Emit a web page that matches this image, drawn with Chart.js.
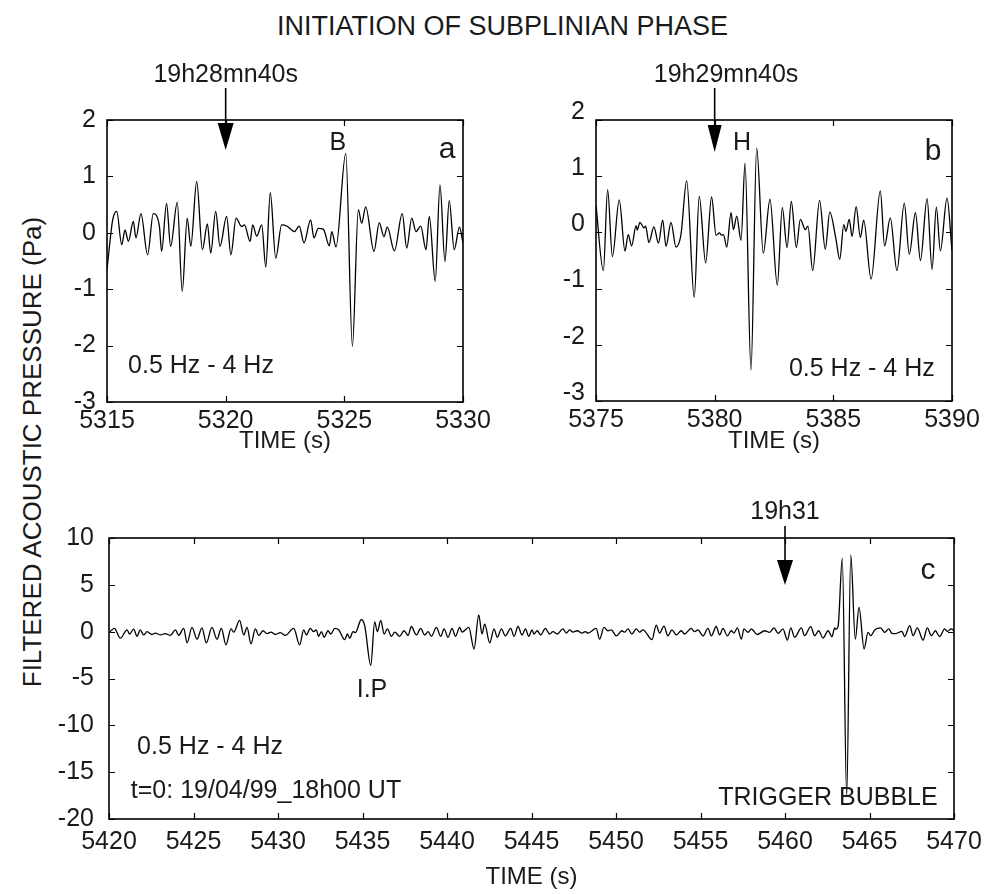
<!DOCTYPE html>
<html>
<head>
<meta charset="UTF-8" />
<title>Initiation of subplinian phase</title>
<script src="https://cdn.jsdelivr.net/npm/chart.js"></script>
<style>
  body { margin: 0; background: #fff; }
  #page { position: relative; width: 1005px; height: 894px; overflow: hidden;
          font-family: 'Liberation Sans', Arial, sans-serif; color: #1a1a1a; }
  #page canvas { position: absolute; }
  .title { position: absolute; left: 0; top: 11px; width: 1005px; text-align: center; font-size: 27px; }
  .ylabel { position: absolute; left: 32px; top: 452px; white-space: nowrap; font-size: 26px;
            transform: translate(-50%, -50%) rotate(-90deg); }
</style>
</head>
<body>
<div id="page">
  <div class="title">INITIATION OF SUBPLINIAN PHASE</div>
  <div class="ylabel">FILTERED ACOUSTIC PRESSURE (Pa)</div>
  <canvas id="chartA" width="460" height="410" style="left:40px;top:50px"></canvas>
  <canvas id="chartB" width="485" height="410" style="left:520px;top:50px"></canvas>
  <canvas id="chartC" width="985" height="414" style="left:20px;top:480px"></canvas>
</div>

<script>
// filtered pressure traces, [time (s), pressure (Pa)]
const traceA = [
  [5315.00,-0.65],[5315.24,0.23],[5315.41,0.38],[5315.62,-0.21],[5315.76,0.05],[5315.90,-0.15],
  [5316.11,0.20],[5316.22,-0.09],[5316.43,0.34],[5316.71,-0.39],[5316.95,0.34],[5317.21,0.11],
  [5317.30,-0.33],[5317.51,0.52],[5317.68,-0.24],[5317.96,0.54],[5318.17,-1.04],[5318.38,0.26],
  [5318.53,-0.24],[5318.78,0.91],[5319.02,-0.30],[5319.23,0.16],[5319.37,-0.36],[5319.58,0.38],
  [5319.76,-0.24],[5320.04,0.29],[5320.22,-0.39],[5320.44,0.26],[5320.67,0.11],[5320.79,0.14],
  [5321.03,-0.15],[5321.14,0.14],[5321.31,-0.06],[5321.52,0.14],[5321.69,-0.61],[5321.88,0.71],
  [5322.11,-0.45],[5322.36,0.14],[5322.57,0.12],[5322.78,0.05],[5322.89,0.02],[5323.10,0.12],
  [5323.30,-0.18],[5323.58,0.23],[5323.72,-0.09],[5323.90,0.08],[5324.12,0.06],[5324.37,-0.23],
  [5324.47,0.02],[5324.65,-0.25],[5325.06,1.41],[5325.34,-2.01],[5325.59,0.41],[5325.73,0.17],
  [5325.90,0.46],[5326.25,-0.33],[5326.47,0.18],[5326.67,-0.07],[5326.81,0.10],[5327.11,-0.32],
  [5327.44,0.34],[5327.63,-0.27],[5327.84,0.26],[5328.02,0.02],[5328.22,0.12],[5328.44,-0.30],
  [5328.58,0.29],[5328.83,-0.86],[5329.03,0.85],[5329.24,-0.51],[5329.42,0.57],[5329.63,-0.30],
  [5329.85,0.10],[5330.00,-0.18]
];

const traceB = [
  [5375.00,0.48],[5375.31,-0.68],[5375.49,0.76],[5375.69,-0.43],[5375.98,0.58],[5376.22,-0.33],
  [5376.36,-0.04],[5376.50,-0.24],[5376.69,0.12],[5376.74,0.04],[5376.85,0.18],[5377.02,0.08],
  [5377.09,0.11],[5377.23,-0.18],[5377.44,0.10],[5377.63,-0.19],[5377.81,0.22],[5377.95,-0.25],
  [5378.16,0.18],[5378.37,-0.26],[5378.58,-0.04],[5378.82,0.92],[5379.14,-1.16],[5379.35,0.64],
  [5379.62,-0.54],[5379.87,0.63],[5380.06,-0.05],[5380.20,-0.01],[5380.29,-0.05],[5380.37,-0.04],
  [5380.51,-0.26],[5380.69,0.35],[5380.79,0.05],[5380.93,0.29],[5381.11,-0.14],[5381.28,1.23],
  [5381.53,-2.45],[5381.77,1.50],[5382.05,-0.37],[5382.33,0.59],[5382.64,-0.94],[5382.85,0.44],
  [5383.05,-0.27],[5383.23,0.55],[5383.44,-0.27],[5383.61,0.23],[5383.82,0.05],[5383.93,0.11],
  [5384.13,-0.68],[5384.42,0.57],[5384.66,-0.30],[5384.85,0.36],[5385.11,-0.12],[5385.27,-0.48],
  [5385.44,0.14],[5385.53,0.02],[5385.67,0.23],[5385.79,-0.07],[5385.96,0.46],[5386.14,-0.09],
  [5386.28,0.22],[5386.59,-0.83],[5386.98,0.74],[5387.16,-0.24],[5387.40,0.26],[5387.68,-0.68],
  [5387.99,0.52],[5388.20,-0.39],[5388.46,0.35],[5388.67,-0.50],[5388.95,0.60],[5389.16,-0.66],
  [5389.34,0.45],[5389.51,-0.33],[5389.79,0.61],[5390.00,-0.33]
];

const traceC = [
  [5420.00,-0.10],[5420.32,0.35],[5420.67,-0.70],[5421.07,0.20],[5421.22,-0.25],[5421.46,0.28],
  [5421.66,-0.50],[5421.85,0.20],[5422.05,-0.35],[5422.25,0.00],[5422.54,-0.30],[5422.74,-0.15],
  [5423.04,-0.35],[5423.33,-0.20],[5423.63,-0.40],[5423.93,0.20],[5424.12,-0.40],[5424.42,0.35],
  [5424.62,-1.20],[5424.91,0.45],[5425.21,-0.80],[5425.50,0.40],[5425.76,-1.20],[5426.09,0.45],
  [5426.39,-0.80],[5426.65,0.35],[5426.92,-1.40],[5427.22,0.30],[5427.38,-0.05],[5427.73,1.20],
  [5427.97,-0.35],[5428.17,0.45],[5428.40,-1.30],[5428.66,0.30],[5428.86,-0.40],[5429.11,0.10],
  [5429.35,-0.20],[5429.59,-0.05],[5429.84,-0.30],[5430.14,-0.10],[5430.43,-0.40],[5430.93,0.35],
  [5431.28,-1.40],[5431.52,0.20],[5431.68,-0.35],[5431.91,0.35],[5432.11,0.00],[5432.27,0.20],
  [5432.40,-0.50],[5432.57,0.00],[5432.73,-0.60],[5432.96,0.10],[5433.12,-0.25],[5433.36,0.35],
  [5433.59,0.20],[5433.95,-0.85],[5434.11,-0.25],[5434.24,-0.70],[5434.44,0.00],[5434.58,-0.10],
  [5434.93,1.30],[5435.13,0.65],[5435.49,-3.60],[5435.72,1.05],[5435.88,0.00],[5436.08,1.20],
  [5436.28,-0.25],[5436.47,0.30],[5436.71,-0.50],[5436.91,-0.05],[5437.20,-0.50],[5437.46,0.10],
  [5437.70,-0.40],[5437.89,0.55],[5438.19,-0.35],[5438.44,0.35],[5438.68,-0.35],[5438.88,0.00],
  [5439.08,-0.50],[5439.37,0.45],[5439.63,-0.50],[5439.83,0.30],[5440.06,-0.60],[5440.30,0.35],
  [5440.50,-0.50],[5440.75,0.45],[5440.89,-0.05],[5441.29,0.45],[5441.60,-1.85],[5441.88,1.80],
  [5442.07,-0.25],[5442.23,0.80],[5442.53,-1.20],[5442.78,0.30],[5442.98,-0.60],[5443.22,0.30],
  [5443.45,-0.45],[5443.77,0.35],[5443.97,-0.50],[5444.20,0.55],[5444.44,-0.35],[5444.64,0.30],
  [5444.84,-0.50],[5445.03,0.20],[5445.14,-0.25],[5445.34,0.10],[5445.54,-0.35],[5445.82,0.35],
  [5446.07,-0.25],[5446.27,0.00],[5446.53,-0.25],[5446.86,0.30],[5447.06,-0.15],[5447.26,0.20],
  [5447.45,-0.05],[5447.71,0.10],[5447.99,-0.15],[5448.18,0.00],[5448.34,-0.15],[5448.83,0.35],
  [5449.03,-0.80],[5449.29,0.45],[5449.52,0.10],[5449.72,0.20],[5450.02,-0.45],[5450.35,0.10],
  [5450.51,-0.05],[5450.71,0.30],[5450.94,-0.25],[5451.20,0.30],[5451.40,-0.05],[5451.59,0.20],
  [5452.13,-0.85],[5452.38,0.70],[5452.58,-0.15],[5452.84,0.60],[5453.07,-0.45],[5453.31,0.20],
  [5453.57,-0.35],[5453.86,0.10],[5454.06,-0.25],[5454.45,0.35],[5454.65,0.00],[5454.85,0.20],
  [5455.15,-0.45],[5455.44,0.35],[5455.64,-0.45],[5455.93,0.55],[5456.13,-0.35],[5456.33,0.35],
  [5456.59,-0.45],[5456.82,0.10],[5456.98,-0.15],[5457.18,0.40],[5457.42,-0.80],[5457.57,0.30],
  [5457.81,-0.07],[5458.01,0.30],[5458.35,-0.30],[5458.80,0.10],[5459.09,-0.07],[5459.35,0.40],
  [5459.59,-0.18],[5459.88,0.30],[5460.14,-0.90],[5460.34,0.40],[5460.57,-0.60],[5460.97,0.40],
  [5461.16,-0.43],[5461.52,0.53],[5461.76,-0.43],[5461.99,0.10],[5462.25,-0.68],[5462.55,0.10],
  [5462.78,-0.53],[5462.94,0.40],[5463.02,0.25],[5463.14,0.53],[5463.39,7.85],[5463.65,-17.60],
  [5463.89,8.20],[5464.16,-0.80],[5464.38,2.60],[5464.68,-1.85],[5464.91,-0.07],[5465.07,-0.43],
  [5465.31,0.18],[5465.66,0.40],[5465.90,-0.07],[5466.14,0.30],[5466.33,-0.18],[5466.53,-0.20],
  [5466.92,0.03],[5467.08,-0.53],[5467.38,0.64],[5467.58,-0.43],[5467.83,0.40],[5468.17,-0.90],
  [5468.42,0.40],[5468.66,-0.43],[5468.90,0.10],[5469.15,-0.53],[5469.45,0.30],[5469.61,0.03],
  [5469.84,0.30],[5470.00,0.10]
];

// axis ranges: [min, max, step]
const timeRangeA = [5315, 5330, 5];
const timeRangeB = [5375, 5390, 5];
const timeRangeC = [5420, 5470, 5];
const pressRangeAB = [-3, 2, 1];
const pressRangeC = [-20, 10, 5];

const FONT = "'Liberation Sans', Arial, sans-serif";
const INK = '#1a1a1a';

// box frame, inward ticks, arrows and text notes
const panelDecor = {
  id: 'panelDecor',
  afterDraw(chart, args, opts) {
    const { ctx, chartArea: area, scales: { x, y } } = chart;
    ctx.save();
    ctx.strokeStyle = '#000';
    ctx.fillStyle = '#000';
    ctx.lineWidth = 1.6;
    ctx.strokeRect(area.left, area.top, area.width, area.height);

    ctx.lineWidth = 1.2;
    ctx.beginPath();
    x.ticks.forEach(t => {
      const px = Math.round(x.getPixelForValue(t.value)) + 0.5;
      ctx.moveTo(px, area.bottom); ctx.lineTo(px, area.bottom - 6);
      ctx.moveTo(px, area.top); ctx.lineTo(px, area.top + 6);
    });
    y.ticks.forEach(t => {
      const py = Math.round(y.getPixelForValue(t.value)) + 0.5;
      ctx.moveTo(area.left, py); ctx.lineTo(area.left + 6, py);
      ctx.moveTo(area.right, py); ctx.lineTo(area.right - 6, py);
    });
    ctx.stroke();

    (opts.arrows || []).forEach(a => {
      const px = x.getPixelForValue(a.at);
      ctx.lineWidth = 1.6;
      ctx.beginPath();
      ctx.moveTo(px, area.top + a.from);
      ctx.lineTo(px, area.top + a.head);
      ctx.stroke();
      ctx.beginPath();
      ctx.moveTo(px - a.half, area.top + a.head);
      ctx.lineTo(px + a.half, area.top + a.head);
      ctx.lineTo(px, area.top + a.tip);
      ctx.closePath();
      ctx.fill();
    });

    ctx.fillStyle = INK;
    ctx.textBaseline = 'middle';
    ctx.textAlign = 'center';
    (opts.notes || []).forEach(n => {
      ctx.font = (n.size || 25) + 'px ' + FONT;
      const py = n.dy != null ? area.top + n.dy : y.getPixelForValue(n.y);
      ctx.fillText(n.text, x.getPixelForValue(n.x), py);
    });
    ctx.restore();
  }
};

function panel(id, trace, xr, yr, box, decor) {
  return new Chart(document.getElementById(id), {
    type: 'line',
    data: {
      datasets: [{
        data: trace.map(([t, p]) => ({ x: t, y: p })),
        borderColor: '#000',
        borderWidth: 1.3,
        pointRadius: 0,
        fill: false,
        cubicInterpolationMode: 'monotone'
      }]
    },
    options: {
      responsive: false,
      animation: false,
      events: [],
      layout: { padding: { top: box.top, right: box.right, left: 0, bottom: 0 } },
      plugins: { legend: { display: false }, tooltip: { enabled: false }, panelDecor: decor },
      scales: {
        x: {
          type: 'linear', min: xr[0], max: xr[1],
          grid: { display: false, drawTicks: false },
          border: { display: false },
          afterFit: s => { s.height = box.xh; },
          ticks: {
            stepSize: xr[2], autoSkip: false, maxRotation: 0, padding: box.xpad,
            color: INK, font: { family: FONT, size: 25 },
            callback: v => String(v)
          },
          title: {
            display: true, text: 'TIME (s)', color: INK,
            font: { family: FONT, size: 24 }, padding: { top: 0, bottom: box.tpad }
          }
        },
        y: {
          type: 'linear', min: yr[0], max: yr[1],
          grid: { display: false, drawTicks: false },
          border: { display: false },
          afterFit: s => { s.width = box.yw; },
          ticks: {
            stepSize: yr[2], padding: box.ypad, labelOffset: box.yoff || 0,
            color: INK, font: { family: FONT, size: 25 },
            callback: v => String(v)
          }
        }
      }
    },
    plugins: [panelDecor]
  });
}

panel('chartA', traceA, timeRangeA, pressRangeAB,
  { top: 70, right: 37, xh: 58, yw: 67, xpad: 4, tpad: 4, ypad: 11 },
  {
    arrows: [{ at: 5320, from: -32, head: 3, tip: 30, half: 8 }],
    notes: [
      { text: '19h28mn40s', x: 5320, dy: -45 },
      { text: 'B', x: 5324.73, y: 1.59 },
      { text: 'a', x: 5329.33, y: 1.47, size: 30 },
      { text: '0.5 Hz - 4 Hz', x: 5318.96, y: -2.37 }
    ]
  });

panel('chartB', traceB, timeRangeB, pressRangeAB,
  { top: 70, right: 53, xh: 59, yw: 76, xpad: 4, tpad: 4, ypad: 11, yoff: -8 },
  {
    arrows: [{ at: 5380, from: -32, head: 5, tip: 32, half: 7 }],
    notes: [
      { text: '19h29mn40s', x: 5380.48, dy: -45 },
      { text: 'H', x: 5381.15, y: 1.59 },
      { text: 'b', x: 5389.2, y: 1.43, size: 30 },
      { text: '0.5 Hz - 4 Hz', x: 5386.2, y: -2.44 }
    ]
  });

panel('chartC', traceC, timeRangeC, pressRangeC,
  { top: 58, right: 51, xh: 75, yw: 89, xpad: 8, tpad: 2, ypad: 15 },
  {
    arrows: [{ at: 5460, from: -12, head: 22, tip: 47, half: 8 }],
    notes: [
      { text: '19h31', x: 5460, dy: -26 },
      { text: 'c', x: 5468.46, y: 6.5, size: 30 },
      { text: 'I.P', x: 5435.56, y: -6.2 },
      { text: '0.5 Hz - 4 Hz', x: 5425.98, y: -12.3 },
      { text: 't=0: 19/04/99_18h00 UT', x: 5429.29, y: -17.0 },
      { text: 'TRIGGER BUBBLE', x: 5462.54, y: -17.8 }
    ]
  });
</script>
</body>
</html>
